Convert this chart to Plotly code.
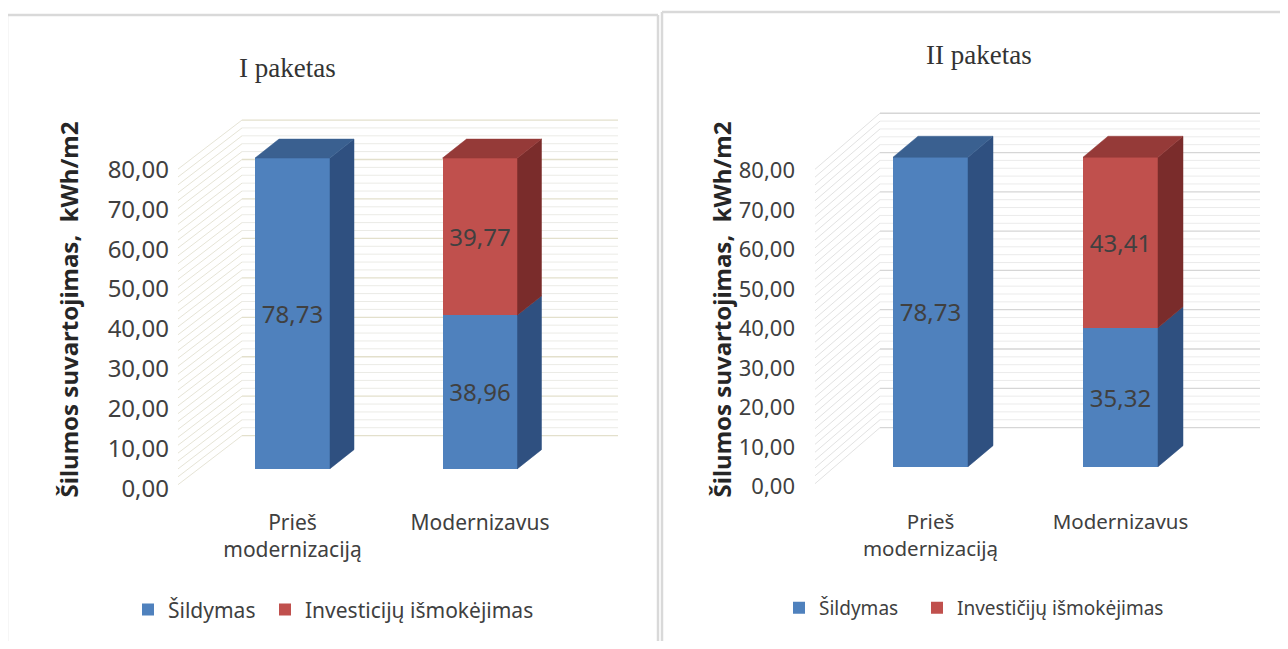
import plotly.graph_objects as go

# ---------------- data ----------------
categories = ["Prieš<br>modernizaciją", "Modernizavus"]
heating_1 = [78.73, 38.96]
invest_1 = [None, 39.77]
heating_2 = [78.73, 35.32]
invest_2 = [None, 43.41]
y_ticks = [0, 10, 20, 30, 40, 50, 60, 70, 80]
panel_titles = ["I paketas", "II paketas"]
names_1 = ["Šildymas", "Investicijų išmokėjimas"]
names_2 = ["Šildymas", "Investičijų išmokėjimas"]
y_title = "Šilumos suvartojimas,  kWh/m2"

# ---------------- style / geometry ----------------
PAGE_W, PAGE_H = 1288, 649
OFF = 8  # default page body margin (all sides)
W, H = PAGE_W - 2 * OFF, PAGE_H - 2 * OFF
SY = 1.014  # vertical calibration of the capture


def fx(px):  # page pixel -> paper x
    return (px - OFF) / W


def fy(py):  # page pixel -> paper y
    return 1 - (py * SY - OFF) / H


BLUE, BLUE_TOP, BLUE_SIDE = "#4f81bd", "#3a6090", "#2f5080"
RED, RED_TOP, RED_SIDE = "#c0504d", "#953a38", "#7a2c2b"
TXT = "#404040"
FONT = "Noto Sans"

P1 = dict(left=170, right=625, top=105, bottom=495, cx0=292.5, cx1=480, bar_w=75,
          base=468, ppu=3.94, ddx=24, ddy=19, wall_base=435, wall_x0=242, wall_x1=618,
          side_x=178, side_base=484, tick0=488, tick80=169, tick_size=24, cat_size=21,
          cat_standoff=12, leg_size=21, leg_x=(128, 265), leg_y=609, ytitle_x=68,
          major="#e3e0cc", minor="#ebebe6", diag="#e6e4d6")
P2 = dict(left=796, right=1265, top=100, bottom=495, cx0=930.5, cx1=1120.5, bar_w=75,
          base=466, ppu=3.925, ddx=25, ddy=21, wall_base=427, wall_x0=880, wall_x1=1260,
          side_x=815, side_base=483, tick0=486, tick80=170, tick_size=22, cat_size=20.5,
          cat_standoff=12, leg_size=19, leg_x=(779, 917), leg_y=607, ytitle_x=721,
          major="#d6d6d6", minor="#ebebeb", diag="#e2e2e2")

fig = go.Figure()
shapes = []
layout_extra = {}


def build_panel(p, heat, inv, names, xa, ya, yt, legs):
    ux = p["cx1"] - p["cx0"]

    def X(px):
        return (px - p["cx0"]) / ux

    def Y(py):
        return (p["base"] - py) / p["ppu"]

    bw = p["bar_w"] / ux
    ddx = p["ddx"] / ux
    ddy = p["ddy"] / p["ppu"]
    wall_off = Y(p["wall_base"])
    wx0, wx1 = X(p["wall_x0"]), X(p["wall_x1"])
    sx = X(p["side_x"])

    # back wall + side wall grid (every 2 units, major every 10)
    for v in range(0, 81, 2):
        col = p["major"] if v % 10 == 0 else p["minor"]
        shapes.append(dict(type="line", xref=xa, yref=ya, layer="below",
                           x0=wx0, x1=wx1, y0=v + wall_off, y1=v + wall_off,
                           line=dict(color=col, width=1.3 if v % 10 == 0 else 1)))
        sy = Y(p["side_base"] - v * p["ppu"])
        shapes.append(dict(type="line", xref=xa, yref=ya, layer="below",
                           x0=sx, x1=wx0, y0=sy, y1=v + wall_off,
                           line=dict(color=p["diag"], width=1)))

    xs = [0, 1]
    for vals, name, col, leg in ((heat, names[0], BLUE, legs[0]), (inv, names[1], RED, legs[1])):
        fig.add_trace(go.Bar(
            x=xs, y=vals, width=bw, name=name, xaxis=xa, yaxis=ya, legend=leg,
            marker=dict(color=col, line=dict(width=0)),
            texttemplate="%{y:.2f}", textposition="inside", insidetextanchor="middle",
            constraintext="none", textfont=dict(family=FONT, size=24, color=TXT),
            hoverinfo="skip"))

    # 3D faces computed from the data
    for i in xs:
        xl, xr = i - bw / 2, i + bw / 2
        segs = [(0, heat[i], BLUE_SIDE, BLUE_TOP)]
        if inv[i] is not None:
            segs.append((heat[i], heat[i] + inv[i], RED_SIDE, RED_TOP))
        for y0, y1, side_c, _ in segs:
            fig.add_trace(go.Scatter(
                x=[xr, xr + ddx, xr + ddx, xr, xr],
                y=[y0, y0 + ddy, y1 + ddy, y1, y0],
                xaxis=xa, yaxis=ya, mode="lines", fill="toself", fillcolor=side_c,
                line=dict(color=side_c, width=0.5), hoverinfo="skip", showlegend=False))
        top, top_c = segs[-1][1], segs[-1][3]
        fig.add_trace(go.Scatter(
            x=[xl, xl + ddx, xr + ddx, xr, xl],
            y=[top, top + ddy, top + ddy, top, top],
            xaxis=xa, yaxis=ya, mode="lines", fill="toself", fillcolor=top_c,
            line=dict(color=top_c, width=0.5), hoverinfo="skip", showlegend=False))

    # invisible carrier so the tick axis is drawn
    fig.add_trace(go.Scatter(x=[0] * len(y_ticks), y=y_ticks, xaxis=xa, yaxis=yt,
                             mode="markers", marker=dict(opacity=0), hoverinfo="skip",
                             showlegend=False))

    tick_ppu = (p["tick0"] - p["tick80"]) / 80.0
    xkey = "xaxis" + xa[1:]
    ykey = "yaxis" + ya[1:]
    tkey = "yaxis" + yt[1:]
    layout_extra[xkey] = dict(domain=[fx(p["left"]), fx(p["right"])],
                              range=[X(p["left"]), X(p["right"])], anchor=ya,
                              tickmode="array", tickvals=xs, ticktext=categories,
                              showgrid=False, zeroline=False, showline=False, ticks="",
                              ticklabelstandoff=p["cat_standoff"],
                              tickfont=dict(family=FONT, size=p["cat_size"], color=TXT),
                              fixedrange=True)
    layout_extra[ykey] = dict(domain=[fy(p["bottom"]), fy(p["top"])],
                              range=[Y(p["bottom"]), Y(p["top"])], anchor=xa,
                              visible=False, fixedrange=True)
    layout_extra[tkey] = dict(overlaying=ya, anchor=xa, side="left",
                              range=[(p["tick0"] - p["bottom"]) / tick_ppu,
                                     (p["tick0"] - p["top"]) / tick_ppu],
                              tickmode="array", tickvals=y_ticks, tickformat=".2f",
                              showgrid=False, zeroline=False, showline=False, ticks="",
                              tickfont=dict(family=FONT, size=p["tick_size"], color=TXT),
                              fixedrange=True)
    for leg, lx in zip(legs, p["leg_x"]):
        layout_extra[leg] = dict(x=fx(lx), y=fy(p["leg_y"]), orientation="h",
                                 xanchor="left", yanchor="middle",
                                 font=dict(family=FONT, size=p["leg_size"], color=TXT),
                                 bgcolor="rgba(0,0,0,0)", itemclick=False,
                                 itemdoubleclick=False)


build_panel(P1, heating_1, invest_1, names_1, "x", "y", "y3", ("legend", "legend3"))
build_panel(P2, heating_2, invest_2, names_2, "x2", "y2", "y4", ("legend2", "legend4"))

# panel frames: top, left and right edges (bottom runs off the page)
frame = dict(type="line", xref="paper", yref="paper", layer="below",
             line=dict(color="#d9d9d9", width=2.5))
for x0, x1, ytop in ((7, 658, 15), (662, 1300, 12)):
    shapes.append(dict(frame, x0=fx(x0), x1=fx(x1), y0=fy(ytop), y1=fy(ytop)))
    shapes.append(dict(frame, x0=fx(x0), x1=fx(x0), y0=fy(ytop), y1=fy(660)))
    shapes.append(dict(frame, x0=fx(x1), x1=fx(x1), y0=fy(ytop), y1=fy(660)))

annotations = [
    dict(text=panel_titles[0], x=fx(287), y=fy(68), xref="paper", yref="paper",
         xanchor="center", yanchor="middle", showarrow=False,
         font=dict(family="Liberation Serif", size=27, color="#333333")),
    dict(text=panel_titles[1], x=fx(979), y=fy(55), xref="paper", yref="paper",
         xanchor="center", yanchor="middle", showarrow=False,
         font=dict(family="Liberation Serif", size=27, color="#333333")),
]
for p in (P1, P2):
    annotations.append(dict(text="<b>" + y_title + "</b>", x=fx(p["ytitle_x"]), y=fy(309),
                            xref="paper", yref="paper", xanchor="center", yanchor="middle",
                            showarrow=False, textangle=-90,
                            font=dict(family=FONT, size=24, color="#262626")))

fig.update_layout(
    width=W, height=H, margin=dict(l=0, r=0, t=0, b=0),
    paper_bgcolor="white", plot_bgcolor="rgba(0,0,0,0)",
    barmode="stack", separators=", ",
    shapes=shapes, annotations=annotations,
    **layout_extra,
)

fig.write_html("out.html")
